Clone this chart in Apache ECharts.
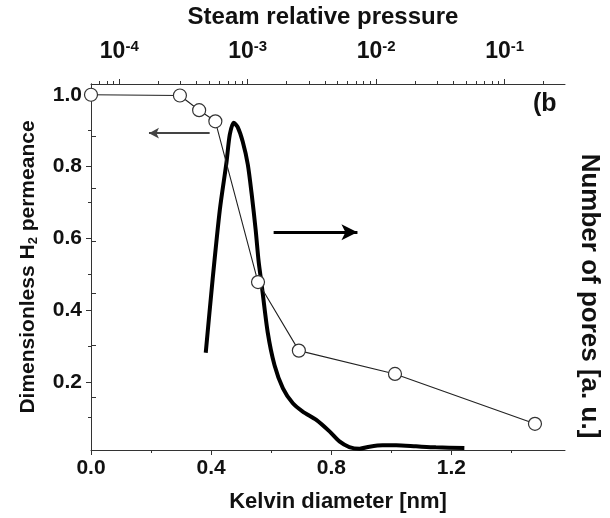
<!DOCTYPE html>
<html>
<head>
<meta charset="utf-8">
<script src="https://cdn.jsdelivr.net/npm/echarts@6/dist/echarts.min.js"></script>
<style>
html,body{margin:0;padding:0;background:#fff;}
#chart{width:610px;height:518px;}
</style>
</head>
<body>
<div id="chart"></div>
<script>
// Dimensionless H2 permeance (left axis) vs Kelvin diameter [nm]
var permX = [0, 0.296, 0.36, 0.414, 0.556, 0.692, 1.012, 1.478];
var permY = [1.0, 0.998, 0.957, 0.926, 0.478, 0.287, 0.222, 0.083];

// Number of pores [a.u.] (right axis) vs Kelvin diameter [nm]
var poreX = [0.382, 0.405, 0.429, 0.451, 0.462, 0.475, 0.488, 0.505, 0.522, 0.535, 0.548, 0.558, 0.568, 0.588, 0.611, 0.639, 0.672, 0.705, 0.750, 0.794, 0.827, 0.860, 0.894, 0.927, 0.971, 1.016, 1.082, 1.148, 1.243];
var poreY = [1.86, 3.27, 4.60, 5.50, 6.03, 6.26, 6.18, 5.90, 5.46, 4.89, 4.22, 3.61, 3.17, 2.26, 1.62, 1.18, 0.894, 0.736, 0.576, 0.356, 0.165, 0.057, 0.025, 0.063, 0.089, 0.089, 0.070, 0.051, 0.038];

// tick labels
var xTicks = [0, 0.4, 0.8, 1.2];
var xMinorTicks = [0.2, 0.6, 1.0, 1.4];
var yTicks = [0.2, 0.4, 0.6, 0.8, 1.0];
var yMinorTicks = [0.1, 0.3, 0.5, 0.7, 0.9];
var topExponents = [-4, -3, -2, -1];   // steam relative pressure decades (log10)

var topMinor = [];
for (var e = -5; e <= -1; e++) {
  for (var k = 2; k <= 9; k++) topMinor.push(Math.log10(k) + e);
}
topMinor = topMinor.filter(function (v) { return v > -4.22 && v < -0.53; });

var permData = permX.map(function (x, i) { return [x, permY[i]]; });
var poreData = poreX.map(function (x, i) { return [x, poreY[i]]; });

var FONT = 'Liberation Sans';
var AX = '#333';

var chart = echarts.init(document.getElementById('chart'), null, {renderer: 'canvas'});
chart.setOption({
  animation: false,
  backgroundColor: '#fff',
  grid: {left: 91, right: 44, top: 84, bottom: 66, containLabel: false},
  xAxis: [
    {
      type: 'value', position: 'bottom', min: 0, max: 1.578,
      name: 'Kelvin diameter [nm]', nameLocation: 'middle', nameGap: 41,
      nameTextStyle: {fontFamily: FONT, fontWeight: 'bold', fontSize: 22, color: '#111', padding: [0, 0, 0, 20]},
      axisLine: {show: true, lineStyle: {color: AX, width: 1}},
      axisTick: {show: true, inside: false, length: 5, customValues: xTicks, lineStyle: {color: AX}},
      axisLabel: {show: true, customValues: xTicks, margin: 8, fontFamily: FONT, fontWeight: 'bold', fontSize: 21, color: '#111',
        formatter: function (v) { return v.toFixed(1); }},
      splitLine: {show: false}
    },
    {
      type: 'value', position: 'bottom', min: 0, max: 1.578,
      axisLine: {show: false},
      axisTick: {show: true, length: 3, customValues: xMinorTicks, lineStyle: {color: AX}},
      axisLabel: {show: false},
      splitLine: {show: false}
    },
    {
      type: 'value', position: 'top', min: -4.22, max: -0.53,
      name: 'Steam relative pressure', nameLocation: 'middle', nameGap: 55,
      nameTextStyle: {fontFamily: FONT, fontWeight: 'bold', fontSize: 24, color: '#111', padding: [0, 10, 0, 0]},
      axisLine: {show: true, lineStyle: {color: AX, width: 1}},
      axisTick: {show: true, length: 5, customValues: topExponents, lineStyle: {color: AX}},
      axisLabel: {show: true, customValues: topExponents, margin: 19,
        fontFamily: FONT, fontWeight: 'bold', fontSize: 22, color: '#111',
        formatter: function (v) { return '{big|10}{sup|' + v + '}'; },
        rich: {
          big: {fontFamily: FONT, fontWeight: 'bold', fontSize: 23, color: '#111', lineHeight: 26},
          sup: {fontFamily: FONT, fontWeight: 'bold', fontSize: 15, color: '#111', lineHeight: 16, verticalAlign: 'top'}
        }},
      splitLine: {show: false}
    },
    {
      type: 'value', position: 'top', min: -4.22, max: -0.53,
      axisLine: {show: false},
      axisTick: {show: true, length: 3, customValues: topMinor, lineStyle: {color: AX}},
      axisLabel: {show: false},
      splitLine: {show: false}
    }
  ],
  yAxis: [
    {
      type: 'value', position: 'left', min: 0.01, max: 1.03,
      name: 'Dimensionless H{sub|2} permeance', nameLocation: 'middle', nameGap: 51,
      nameTextStyle: {fontFamily: FONT, fontWeight: 'bold', fontSize: 21, color: '#111', lineHeight: 24,
        rich: {sub: {fontFamily: FONT, fontWeight: 'bold', fontSize: 13, color: '#111', verticalAlign: 'bottom', lineHeight: 14}}},
      axisLine: {show: true, lineStyle: {color: AX, width: 1}},
      axisTick: {show: true, length: 5, customValues: yTicks, lineStyle: {color: AX}},
      axisLabel: {show: true, customValues: yTicks, margin: 9, fontFamily: FONT, fontWeight: 'bold', fontSize: 21, color: '#111',
        formatter: function (v) { return v.toFixed(1); }},
      splitLine: {show: false}
    },
    {
      type: 'value', position: 'right', min: 0, max: 7, interval: 1,
      name: 'Number of pores [a. u.]', nameLocation: 'middle', nameGap: 11, nameRotate: -90,
      nameTextStyle: {fontFamily: FONT, fontWeight: 'bold', fontSize: 26, color: '#111', padding: [0, 0, 0, 58]},
      axisLine: {show: true, lineStyle: {color: AX, width: 1}},
      axisTick: {show: true, length: 5, lineStyle: {color: AX}},
      axisLabel: {show: false},
      splitLine: {show: false}
    },
    {
      type: 'value', position: 'left', min: 0.01, max: 1.03,
      axisLine: {show: false},
      axisTick: {show: true, length: 3, customValues: yMinorTicks, lineStyle: {color: AX}},
      axisLabel: {show: false},
      splitLine: {show: false}
    }
  ],
  series: [
    {
      type: 'line', name: 'permeance', xAxisIndex: 0, yAxisIndex: 0,
      data: permData,
      symbol: 'circle', symbolSize: 13, showAllSymbol: true,
      lineStyle: {color: '#222', width: 1.1},
      itemStyle: {color: '#fff', borderColor: '#333', borderWidth: 1.2},
      z: 3,
      markLine: {
        silent: true, animation: false,
        symbol: ['none', 'arrow'], symbolSize: [8, 10],
        label: {show: false},
        lineStyle: {color: '#444', width: 2, type: 'solid'},
        data: [[{coord: [0.395, 0.893]}, {coord: [0.193, 0.893]}]]
      }
    },
    {
      type: 'line', name: 'pores', xAxisIndex: 0, yAxisIndex: 1,
      data: poreData,
      symbol: 'none', smooth: 0.25,
      lineStyle: {color: '#000', width: 4},
      z: 2,
      markLine: {
        silent: true, animation: false,
        symbol: ['none', 'arrow'], symbolSize: [12, 16],
        label: {show: false},
        lineStyle: {color: '#000', width: 3, type: 'solid'},
        data: [[{coord: [0.608, 4.166]}, {coord: [0.887, 4.166]}]]
      }
    }
  ],
  graphic: [
    {type: 'text', left: 533, top: 92, style: {text: '(b', fontFamily: FONT, fontWeight: 'bold', fontSize: 25, fill: '#111'}}
  ]
});
</script>
</body>
</html>
